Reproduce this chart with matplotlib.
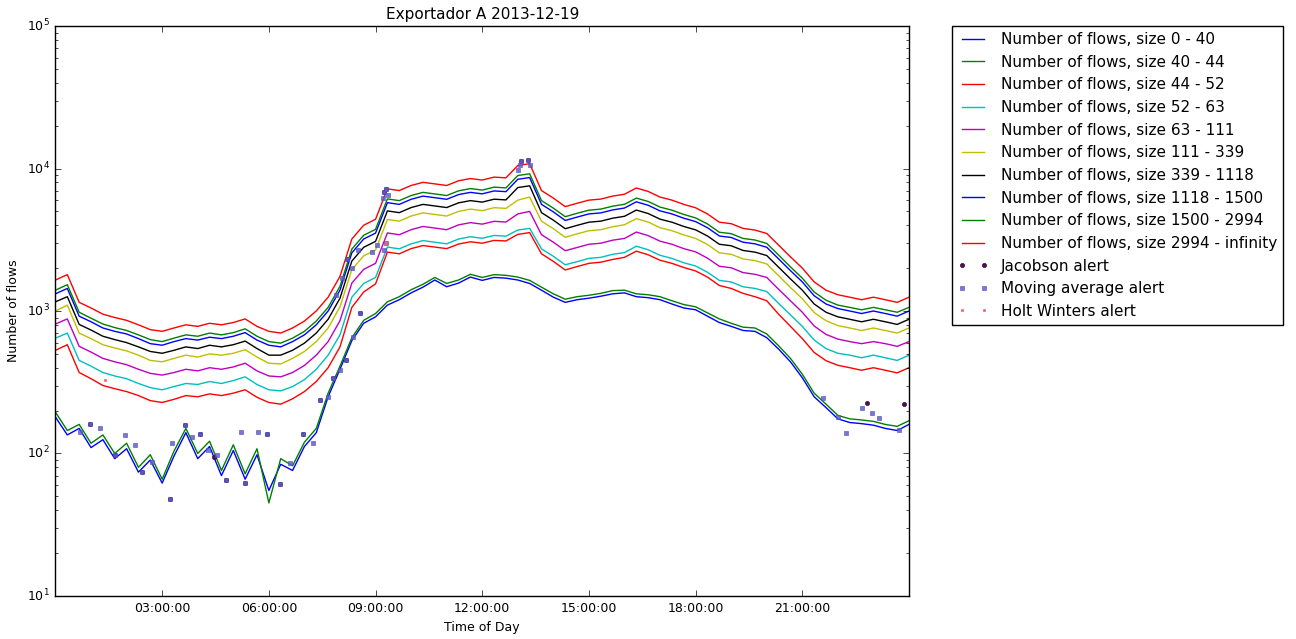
import numpy as np
import matplotlib
matplotlib.use("Agg")
import matplotlib.pyplot as plt
import matplotlib.dates as mdates
from datetime import datetime, timedelta

plt.style.use("classic")
plt.rcParams["mathtext.fontset"] = "dejavusans"

# -----------------------------
# DATA (one sample every 20 min)
# -----------------------------
DAY = datetime(2013, 12, 19)
hours = np.arange(73) / 3.0

size_labels = ["0 - 40", "40 - 44", "44 - 52", "52 - 63", "63 - 111",
               "111 - 339", "339 - 1118", "1118 - 1500", "1500 - 2994",
               "2994 - infinity"]
size_colors = ["b", "g", "r", "c", "m", "y", "k", "b", "g", "r"]

flows_0_40 = [180, 135, 150, 110, 125, 92, 108, 74, 90, 62, 96, 140, 92, 112, 70, 105, 66, 98, 55, 84,
              76, 112, 140, 250, 390, 620, 820, 910, 1100, 1200, 1340, 1470, 1650, 1480, 1570, 1730,
              1640, 1720, 1700, 1650, 1560, 1400, 1250, 1150, 1200, 1230, 1270, 1320, 1340, 1260,
              1240, 1200, 1120, 1050, 1020, 920, 830, 780, 730, 720, 650, 540, 440, 340, 250, 210,
              175, 165, 162, 158, 150, 145, 160]
flows_40_44 = [195, 145, 160, 118, 135, 100, 118, 80, 98, 66, 104, 150, 100, 122, 76, 115, 72, 108, 45, 92,
               82, 120, 150, 265, 410, 650, 860, 960, 1160, 1260, 1410, 1540, 1720, 1560, 1650, 1810,
               1720, 1800, 1780, 1730, 1640, 1470, 1320, 1210, 1260, 1290, 1330, 1390, 1400, 1320,
               1300, 1260, 1180, 1110, 1070, 970, 880, 820, 770, 760, 690, 570, 465, 360, 265, 222,
               185, 175, 172, 168, 160, 155, 170]
flows_44_52 = [530, 580, 370, 335, 300, 285, 272, 255, 235, 228, 240, 255, 250, 262, 255, 265, 280, 248,
               228, 222, 242, 272, 320, 400, 560, 1060, 1360, 1550, 2590, 2520, 2740, 2880, 2810, 2740,
               2950, 3060, 2990, 3130, 3100, 3450, 3550, 2520, 2230, 1940, 2050, 2160, 2200, 2300, 2380,
               2630, 2480, 2270, 2160, 2020, 1910, 1730, 1510, 1440, 1330, 1260, 1180, 950, 780, 640,
               512, 448, 416, 400, 384, 400, 384, 368, 400]
flows_52_63 = [645, 700, 450, 410, 370, 350, 335, 310, 290, 280, 295, 310, 305, 320, 310, 325, 345, 305,
               280, 275, 295, 330, 390, 490, 680, 1250, 1560, 1720, 2810, 2730, 2960, 3120, 3040, 2960,
               3200, 3320, 3240, 3390, 3350, 3700, 3800, 2730, 2420, 2110, 2220, 2340, 2380, 2500, 2570,
               2850, 2690, 2460, 2340, 2180, 2070, 1870, 1640, 1600, 1480, 1440, 1370, 1130, 940, 780,
               625, 545, 505, 490, 470, 490, 470, 450, 490]
flows_63_111 = [810, 880, 565, 515, 465, 440, 420, 390, 365, 355, 370, 390, 380, 400, 390, 405, 430, 380,
                350, 345, 370, 415, 490, 610, 855, 1570, 1960, 2160, 3530, 3430, 3720, 3920, 3820, 3720,
                4020, 4170, 4070, 4260, 4210, 4800, 5000, 3430, 3040, 2650, 2790, 2940, 2990, 3140, 3230,
                3580, 3380, 3090, 2940, 2740, 2600, 2350, 2060, 2010, 1860, 1810, 1720, 1420, 1180, 980,
                785, 685, 635, 610, 590, 610, 590, 565, 610]
flows_111_339 = [1000, 1100, 700, 640, 580, 550, 525, 490, 450, 440, 465, 490, 475, 500, 490, 505, 535,
                 475, 430, 425, 465, 520, 610, 760, 1070, 1950, 2440, 2680, 4390, 4270, 4640, 4880, 4760,
                 4640, 5000, 5190, 5060, 5310, 5250, 6000, 6300, 4270, 3780, 3290, 3480, 3660, 3720, 3900,
                 4030, 4450, 4210, 3840, 3660, 3420, 3230, 2930, 2560, 2500, 2320, 2260, 2140, 1770, 1460,
                 1220, 975, 855, 790, 760, 730, 760, 730, 700, 760]
flows_339_1118 = [1160, 1260, 805, 735, 665, 630, 600, 560, 520, 505, 530, 560, 545, 575, 560, 580, 615,
                  545, 490, 490, 530, 595, 700, 875, 1230, 2240, 2800, 3080, 5040, 4900, 5320, 5600, 5460,
                  5320, 5740, 5950, 5810, 6090, 6020, 7350, 7560, 4900, 4340, 3780, 3990, 4200, 4270, 4480,
                  4620, 5110, 4830, 4410, 4200, 3920, 3710, 3360, 2940, 2870, 2660, 2590, 2450, 2030, 1680,
                  1400, 1120, 980, 910, 875, 840, 875, 840, 805, 875]
flows_1118_1500 = [1320, 1440, 920, 840, 760, 720, 690, 640, 590, 575, 610, 640, 625, 655, 640, 665, 705,
                   625, 575, 560, 610, 680, 800, 1000, 1400, 2560, 3200, 3520, 5760, 5600, 6080, 6400,
                   6240, 6080, 6560, 6800, 6640, 6960, 6880, 8400, 8640, 5600, 4960, 4320, 4560, 4800,
                   4880, 5120, 5280, 5840, 5520, 5040, 4800, 4480, 4240, 3840, 3360, 3280, 3040, 2960,
                   2800, 2320, 1920, 1600, 1280, 1120, 1040, 1000, 960, 1000, 960, 920, 1000]
flows_1500_2994 = [1400, 1530, 980, 890, 810, 765, 730, 680, 630, 610, 645, 680, 665, 700, 680, 705, 750,
                   665, 610, 595, 645, 720, 850, 1060, 1490, 2720, 3400, 3740, 6120, 5950, 6460, 6800,
                   6630, 6460, 6970, 7230, 7060, 7400, 7310, 8930, 9180, 5950, 5270, 4590, 4850, 5100,
                   5190, 5440, 5610, 6200, 5870, 5360, 5100, 4760, 4500, 4080, 3570, 3490, 3230, 3150,
                   2980, 2470, 2040, 1700, 1360, 1190, 1100, 1060, 1020, 1060, 1020, 980, 1060]
flows_2994_inf = [1650, 1800, 1150, 1050, 950, 900, 860, 800, 740, 720, 760, 800, 780, 820, 800, 830, 880,
                  780, 720, 700, 760, 850, 1000, 1250, 1750, 3200, 4000, 4400, 7200, 7000, 7600, 8000,
                  7800, 7600, 8200, 8500, 8300, 8700, 8600, 10500, 10800, 7000, 6200, 5400, 5700, 6000,
                  6100, 6400, 6600, 7300, 6900, 6300, 6000, 5600, 5300, 4800, 4200, 4100, 3800, 3700,
                  3500, 2900, 2400, 2000, 1600, 1400, 1300, 1250, 1200, 1250, 1200, 1150, 1250]

series = [flows_0_40, flows_40_44, flows_44_52, flows_52_63, flows_63_111,
          flows_111_339, flows_339_1118, flows_1118_1500, flows_1500_2994, flows_2994_inf]

# alerts: (hour of day, value)
ma_alert_h = [0.68, 0.97, 1.25, 1.67, 1.95, 2.23, 2.43, 2.72, 3.22, 3.27, 3.63, 3.83, 4.05, 4.28,
              4.53, 4.8, 5.23, 5.32, 5.7, 5.95, 6.32, 6.6, 6.97, 7.25, 7.43, 7.67, 7.8, 8.0, 8.18,
              8.37, 8.57, 7.9, 8.05, 8.2, 8.35, 8.5, 8.9, 9.05, 9.2, 9.25, 9.3, 9.35, 9.25, 9.3,
              13.0, 13.05, 13.1, 13.3, 13.35, 21.58, 22.0, 22.22, 22.67, 22.95, 23.17, 23.73]
ma_alert_v = [142, 161, 150, 98, 135, 115, 74, 87, 48, 118, 158, 131, 138, 106,
              98, 65, 142, 62, 142, 138, 61, 86, 138, 118, 237, 249, 338, 385, 453,
              657, 970, 1300, 1700, 2300, 2000, 2700, 2600, 2900, 6200, 6800, 7200, 6500, 2700, 3000,
              9800, 10500, 11200, 11500, 10600, 245, 180, 139, 209, 193, 178, 146]
jac_alert_h = [0.97, 1.67, 2.43, 3.22, 3.63, 4.05, 4.45, 4.8, 5.32, 5.95, 6.32, 6.97, 7.43, 7.8,
               8.18, 8.57, 8.2, 9.25, 9.3, 13.1, 13.3, 22.83, 23.87]
jac_alert_v = [161, 98, 74, 48, 158, 138, 95, 65, 62, 138, 61, 138, 237, 338,
               453, 970, 2300, 6800, 7200, 11200, 11500, 226, 222]
hw_alert_h = [1.4, 9.3]
hw_alert_v = [330, 3000]


def to_time(h_list):
    return [DAY + timedelta(hours=float(h)) for h in h_list]


# -----------------------------
# PLOT
# -----------------------------
fig = plt.figure(figsize=(12.96, 6.39), dpi=100, facecolor="white")
ax = fig.add_axes([0.0428, 0.0673, 0.6586, 0.892])

t = to_time(hours)
for vals, lab, col in zip(series, size_labels, size_colors):
    ax.plot(t, vals, color=col, lw=1, label="Number of flows, size " + lab)

ax.plot(to_time(jac_alert_h), jac_alert_v, linestyle="none", marker="o", ms=3,
        mec="#3d0a3d", mfc="#4b1450", label="Jacobson alert")
ax.plot(to_time(ma_alert_h), ma_alert_v, linestyle="none", marker="s", ms=3,
        mec="#5050c0", mfc="#6060cc", alpha=0.85, label="Moving average alert")
ax.plot(to_time(hw_alert_h), hw_alert_v, linestyle="none", marker="s", ms=2,
        mec="#ff6060", mfc="#ff6060", label="Holt Winters alert")

ax.set_yscale("log")
ax.set_ylim(10, 1e5)
ax.set_xlim(DAY, DAY + timedelta(hours=24))
ax.xaxis.set_major_locator(mdates.HourLocator(byhour=range(3, 24, 3)))
ax.xaxis.set_major_formatter(mdates.DateFormatter("%H:%M:%S"))
ax.tick_params(labelsize=9)

ax.set_title("Exportador A 2013-12-19", fontsize=11)
ax.set_xlabel("Time of Day", fontsize=9)
ax.set_ylabel("Number of flows", fontsize=9)

ax.legend(loc="upper left", bbox_to_anchor=(1.05, 1), borderaxespad=0,
          fontsize=11, numpoints=2, handlelength=2.0, labelspacing=0.5)

fig.savefig("out.png", dpi=100, facecolor="white")
